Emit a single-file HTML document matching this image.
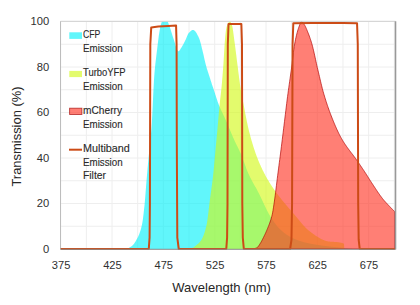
<!DOCTYPE html>
<html><head><meta charset="utf-8"><style>
html,body{margin:0;padding:0;background:#fff;}
svg{display:block;}
text{font-family:"Liberation Sans",sans-serif;stroke-linejoin:round;}
</style></head><body>
<svg width="420" height="305" viewBox="0 0 420 305">
<rect width="420" height="305" fill="#fff"/>
<line x1="60.7" y1="21.50" x2="395.5" y2="21.50" stroke="#EEEEEE" stroke-width="1"/>
<line x1="60.7" y1="44.25" x2="395.5" y2="44.25" stroke="#EEEEEE" stroke-width="1"/>
<line x1="60.7" y1="67.00" x2="395.5" y2="67.00" stroke="#EEEEEE" stroke-width="1"/>
<line x1="60.7" y1="89.75" x2="395.5" y2="89.75" stroke="#EEEEEE" stroke-width="1"/>
<line x1="60.7" y1="112.50" x2="395.5" y2="112.50" stroke="#EEEEEE" stroke-width="1"/>
<line x1="60.7" y1="135.25" x2="395.5" y2="135.25" stroke="#EEEEEE" stroke-width="1"/>
<line x1="60.7" y1="158.00" x2="395.5" y2="158.00" stroke="#EEEEEE" stroke-width="1"/>
<line x1="60.7" y1="180.75" x2="395.5" y2="180.75" stroke="#EEEEEE" stroke-width="1"/>
<line x1="60.7" y1="203.50" x2="395.5" y2="203.50" stroke="#EEEEEE" stroke-width="1"/>
<line x1="60.7" y1="226.25" x2="395.5" y2="226.25" stroke="#EEEEEE" stroke-width="1"/>
<line x1="60.7" y1="249.00" x2="395.5" y2="249.00" stroke="#EEEEEE" stroke-width="1"/>
<line x1="60.70" y1="21.5" x2="60.70" y2="249" stroke="#EEEEEE" stroke-width="1"/>
<line x1="86.36" y1="21.5" x2="86.36" y2="249" stroke="#EEEEEE" stroke-width="1"/>
<line x1="112.03" y1="21.5" x2="112.03" y2="249" stroke="#EEEEEE" stroke-width="1"/>
<line x1="137.69" y1="21.5" x2="137.69" y2="249" stroke="#EEEEEE" stroke-width="1"/>
<line x1="163.35" y1="21.5" x2="163.35" y2="249" stroke="#EEEEEE" stroke-width="1"/>
<line x1="189.01" y1="21.5" x2="189.01" y2="249" stroke="#EEEEEE" stroke-width="1"/>
<line x1="214.68" y1="21.5" x2="214.68" y2="249" stroke="#EEEEEE" stroke-width="1"/>
<line x1="240.34" y1="21.5" x2="240.34" y2="249" stroke="#EEEEEE" stroke-width="1"/>
<line x1="266.00" y1="21.5" x2="266.00" y2="249" stroke="#EEEEEE" stroke-width="1"/>
<line x1="291.66" y1="21.5" x2="291.66" y2="249" stroke="#EEEEEE" stroke-width="1"/>
<line x1="317.32" y1="21.5" x2="317.32" y2="249" stroke="#EEEEEE" stroke-width="1"/>
<line x1="342.99" y1="21.5" x2="342.99" y2="249" stroke="#EEEEEE" stroke-width="1"/>
<line x1="368.65" y1="21.5" x2="368.65" y2="249" stroke="#EEEEEE" stroke-width="1"/>
<line x1="394.31" y1="21.5" x2="394.31" y2="249" stroke="#EEEEEE" stroke-width="1"/>
<defs><clipPath id="pc"><rect x="60.5" y="21.6" width="335.2" height="227.9"/></clipPath></defs><g clip-path="url(#pc)">
<path d="M112.03,249.00 L112.03,249.00 L112.45,249.00 L112.87,249.00 L113.29,249.00 L113.72,249.00 L114.14,249.00 L114.56,249.00 L114.98,249.00 L115.41,249.00 L115.83,249.00 L116.25,249.00 L116.67,249.00 L117.10,249.00 L117.52,249.00 L117.94,249.00 L118.37,249.00 L118.79,249.00 L119.21,249.00 L119.62,249.00 L120.03,249.00 L120.44,249.00 L120.85,249.00 L121.26,249.00 L121.67,249.00 L122.08,249.00 L122.50,249.00 L122.91,249.00 L123.32,249.00 L123.73,249.00 L124.14,249.00 L124.55,249.00 L124.96,249.00 L125.37,249.00 L125.78,248.98 L126.19,248.93 L126.60,248.85 L127.01,248.74 L127.42,248.60 L127.83,248.44 L128.24,248.25 L128.65,248.05 L129.06,247.83 L129.48,247.59 L129.89,247.35 L130.30,247.09 L130.71,246.82 L131.12,246.55 L131.53,246.27 L131.94,245.97 L132.35,245.61 L132.76,245.21 L133.17,244.76 L133.58,244.27 L133.99,243.73 L134.40,243.16 L134.81,242.55 L135.22,241.91 L135.63,241.24 L136.05,240.54 L136.46,239.82 L136.87,239.07 L137.28,238.31 L137.70,237.50 L138.12,236.64 L138.54,235.72 L138.96,234.74 L139.38,233.69 L139.80,232.54 L140.22,231.30 L140.64,229.94 L141.06,228.47 L141.48,226.86 L141.90,225.11 L142.34,222.85 L142.79,219.98 L143.23,216.61 L143.68,212.86 L144.12,208.84 L144.57,204.64 L145.05,199.35 L145.54,193.21 L146.03,186.81 L146.52,180.75 L147.01,175.07 L147.50,169.51 L147.99,164.06 L148.49,158.71 L148.98,153.45 L149.47,148.53 L149.96,143.95 L150.46,139.32 L150.95,134.28 L151.44,128.43 L151.87,121.98 L152.29,114.07 L152.72,105.30 L153.14,96.29 L153.57,87.63 L153.99,79.94 L154.42,73.83 L154.88,68.64 L155.34,64.10 L155.81,60.02 L156.27,56.23 L156.73,52.55 L157.19,48.80 L157.60,45.36 L158.01,41.95 L158.42,38.66 L158.83,35.60 L159.24,32.88 L159.76,29.77 L160.27,27.01 L160.78,24.91 L161.21,23.54 L161.64,22.22 L162.07,21.04 L162.49,20.09 L162.92,19.46 L163.35,19.23 L163.79,19.23 L164.23,19.23 L164.67,19.23 L165.11,19.23 L165.55,19.23 L165.99,19.23 L166.43,19.23 L166.86,19.50 L167.28,20.22 L167.71,21.26 L168.14,22.48 L168.57,23.74 L169.00,24.91 L169.42,26.02 L169.84,27.22 L170.26,28.48 L170.68,29.79 L171.10,31.14 L171.52,32.51 L171.94,33.87 L172.36,35.22 L172.78,36.54 L173.20,37.81 L173.62,39.02 L174.05,40.31 L174.49,41.72 L174.93,43.19 L175.37,44.68 L175.81,46.14 L176.25,47.51 L176.69,48.74 L177.12,49.78 L177.56,50.59 L178.00,51.12 L178.44,51.30 L178.85,51.18 L179.26,50.83 L179.67,50.32 L180.08,49.69 L180.49,49.01 L180.90,48.31 L181.31,47.66 L181.74,47.00 L182.18,46.30 L182.61,45.55 L183.04,44.78 L183.47,43.97 L183.90,43.15 L184.33,42.30 L184.76,41.44 L185.19,40.57 L185.63,39.70 L186.04,38.79 L186.45,37.78 L186.86,36.73 L187.27,35.69 L187.68,34.74 L188.09,33.93 L188.50,33.33 L188.92,32.85 L189.34,32.38 L189.76,31.94 L190.18,31.52 L190.60,31.14 L191.02,30.79 L191.44,30.49 L191.86,30.25 L192.28,30.07 L192.70,29.96 L193.12,29.92 L193.55,29.98 L193.99,30.17 L194.42,30.47 L194.86,30.88 L195.29,31.37 L195.72,31.95 L196.16,32.60 L196.59,33.31 L197.03,34.07 L197.46,34.88 L197.90,35.71 L198.33,36.56 L198.76,37.43 L199.21,38.46 L199.66,39.74 L200.11,41.22 L200.56,42.85 L201.01,44.58 L201.46,46.37 L201.91,48.17 L202.36,49.94 L202.78,51.64 L203.20,53.46 L203.63,55.35 L204.05,57.28 L204.47,59.20 L204.90,61.07 L205.32,62.85 L205.74,64.50 L206.19,66.11 L206.63,67.65 L207.08,69.13 L207.52,70.56 L207.97,71.96 L208.41,73.34 L208.86,74.70 L209.30,76.08 L209.75,77.47 L210.18,78.82 L210.61,80.16 L211.04,81.49 L211.47,82.82 L211.90,84.13 L212.33,85.45 L212.77,86.75 L213.20,88.06 L213.63,89.36 L214.06,90.66 L214.50,92.00 L214.94,93.35 L215.37,94.72 L215.81,96.08 L216.25,97.44 L216.69,98.79 L217.13,100.11 L217.57,101.40 L218.01,102.65 L218.45,103.85 L218.88,104.99 L219.32,106.06 L219.75,107.09 L220.18,108.08 L220.61,109.05 L221.05,109.98 L221.48,110.90 L221.91,111.80 L222.34,112.69 L222.78,113.58 L223.21,114.48 L223.64,115.38 L224.07,116.29 L224.51,117.23 L224.94,118.19 L225.36,119.14 L225.78,120.10 L226.20,121.07 L226.62,122.05 L227.04,123.03 L227.46,124.02 L227.88,125.02 L228.30,126.02 L228.72,127.02 L229.14,128.02 L229.56,129.03 L229.98,130.03 L230.40,131.03 L230.82,132.03 L231.24,133.03 L231.66,134.02 L232.08,135.00 L232.50,135.98 L232.92,136.95 L233.34,137.91 L233.76,138.86 L234.18,139.80 L234.60,140.73 L235.02,141.64 L235.45,142.53 L235.87,143.41 L236.29,144.28 L236.71,145.14 L237.14,146.00 L237.56,146.86 L237.98,147.72 L238.41,148.59 L238.83,149.46 L239.25,150.35 L239.67,151.25 L240.10,152.16 L240.52,153.10 L240.94,154.06 L241.36,155.04 L241.78,156.05 L242.20,157.11 L242.62,158.20 L243.03,159.33 L243.45,160.48 L243.87,161.65 L244.28,162.83 L244.70,164.01 L245.12,165.19 L245.53,166.36 L245.95,167.52 L246.37,168.65 L246.79,169.75 L247.20,170.81 L247.62,171.82 L248.04,172.79 L248.45,173.71 L248.87,174.60 L249.28,175.48 L249.69,176.34 L250.11,177.17 L250.52,178.00 L250.94,178.80 L251.35,179.60 L251.77,180.38 L252.18,181.15 L252.60,181.91 L253.01,182.67 L253.43,183.42 L253.84,184.16 L254.25,184.90 L254.67,185.64 L255.08,186.38 L255.50,187.12 L255.91,187.86 L256.33,188.61 L256.74,189.36 L257.16,190.12 L257.57,190.89 L257.99,191.67 L258.40,192.46 L258.81,193.26 L259.23,194.09 L259.65,194.93 L260.07,195.78 L260.49,196.65 L260.91,197.52 L261.32,198.40 L261.74,199.29 L262.16,200.19 L262.58,201.09 L263.00,201.98 L263.41,202.88 L263.83,203.78 L264.25,204.68 L264.67,205.57 L265.09,206.46 L265.51,207.33 L265.92,208.20 L266.34,209.06 L266.76,209.90 L267.18,210.73 L267.60,211.55 L268.01,212.34 L268.43,213.12 L268.85,213.88 L269.27,214.61 L269.69,215.33 L270.11,216.01 L270.53,216.69 L270.95,217.35 L271.37,218.01 L271.79,218.66 L272.21,219.31 L272.63,219.95 L273.05,220.57 L273.47,221.19 L273.89,221.80 L274.31,222.40 L274.73,222.98 L275.15,223.56 L275.57,224.12 L275.99,224.67 L276.40,225.20 L276.82,225.72 L277.24,226.23 L277.66,226.72 L278.08,227.20 L278.50,227.66 L278.92,228.10 L279.34,228.53 L279.76,228.93 L280.17,229.33 L280.58,229.72 L280.99,230.10 L281.40,230.48 L281.81,230.85 L282.22,231.22 L282.63,231.57 L283.04,231.92 L283.45,232.27 L283.86,232.60 L284.27,232.93 L284.68,233.25 L285.09,233.57 L285.50,233.87 L285.91,234.17 L286.32,234.46 L286.74,234.74 L287.15,235.02 L287.56,235.28 L287.97,235.54 L288.38,235.79 L288.79,236.03 L289.20,236.26 L289.61,236.49 L290.02,236.71 L290.43,236.92 L290.84,237.13 L291.25,237.34 L291.66,237.54 L292.07,237.74 L292.48,237.94 L292.89,238.14 L293.30,238.33 L293.72,238.52 L294.13,238.70 L294.54,238.89 L294.95,239.07 L295.36,239.24 L295.77,239.41 L296.18,239.58 L296.59,239.75 L297.00,239.91 L297.41,240.07 L297.82,240.23 L298.23,240.38 L298.64,240.53 L299.05,240.68 L299.46,240.82 L299.87,240.96 L300.29,241.10 L300.70,241.23 L301.11,241.36 L301.52,241.49 L301.93,241.61 L302.34,241.73 L302.75,241.85 L303.16,241.96 L303.57,242.07 L303.98,242.18 L304.39,242.28 L304.80,242.38 L305.21,242.48 L305.62,242.58 L306.03,242.68 L306.44,242.77 L306.85,242.87 L307.27,242.96 L307.68,243.05 L308.09,243.14 L308.50,243.23 L308.91,243.32 L309.32,243.40 L309.73,243.49 L310.14,243.57 L310.55,243.65 L310.96,243.73 L311.37,243.81 L311.78,243.89 L312.19,243.96 L312.60,244.04 L313.01,244.11 L313.42,244.19 L313.83,244.26 L314.25,244.33 L314.66,244.40 L315.07,244.47 L315.48,244.54 L315.89,244.61 L316.30,244.67 L316.71,244.74 L317.12,244.80 L317.53,244.87 L317.94,244.93 L318.35,244.99 L318.76,245.05 L319.17,245.12 L319.58,245.18 L319.99,245.24 L320.40,245.30 L320.82,245.36 L321.23,245.41 L321.64,245.47 L322.05,245.53 L322.46,245.59 L322.87,245.64 L323.28,245.70 L323.69,245.75 L324.10,245.81 L324.51,245.86 L324.92,245.91 L325.33,245.97 L325.74,246.02 L326.15,246.07 L326.56,246.12 L326.97,246.17 L327.38,246.21 L327.80,246.26 L328.21,246.31 L328.62,246.36 L329.03,246.40 L329.44,246.45 L329.85,246.49 L330.26,246.54 L330.67,246.58 L331.08,246.63 L331.49,246.67 L331.90,246.71 L332.31,246.75 L332.72,246.80 L333.13,246.84 L333.54,246.88 L333.95,246.92 L334.36,246.97 L334.78,247.01 L335.19,247.05 L335.60,247.09 L336.01,247.13 L336.42,247.17 L336.83,247.22 L337.24,247.26 L337.65,247.30 L338.06,247.34 L338.47,247.38 L338.88,247.43 L339.29,247.47 L339.70,247.51 L340.11,247.55 L340.52,247.60 L340.93,247.64 L341.35,247.68 L341.76,247.73 L342.17,247.77 L342.58,247.82 L342.99,247.86 L343.40,247.91 L343.81,247.95 L344.22,248.00 L344.63,248.04 L345.04,248.09 L345.45,248.14 L345.86,248.18 L346.27,248.23 L346.68,248.27 L347.09,248.32 L347.50,248.36 L347.91,248.41 L348.33,248.45 L348.74,248.50 L349.15,248.54 L349.56,248.59 L349.97,248.64 L350.38,248.68 L350.79,248.73 L351.20,248.77 L351.61,248.82 L352.02,248.86 L352.43,248.91 L352.84,248.95 L353.25,249.00 L353.25,249.00 Z" fill="#00F0F8" fill-opacity="0.62"/>
<path d="M187.99,249.00 L187.99,249.00 L188.41,248.90 L188.83,248.81 L189.25,248.72 L189.67,248.63 L190.09,248.55 L190.51,248.46 L190.93,248.36 L191.35,248.26 L191.77,248.14 L192.19,248.01 L192.61,247.86 L193.02,247.69 L193.43,247.47 L193.84,247.22 L194.25,246.93 L194.66,246.62 L195.07,246.29 L195.48,245.95 L195.89,245.60 L196.30,245.25 L196.71,244.91 L197.12,244.56 L197.53,244.23 L197.94,243.88 L198.35,243.53 L198.76,243.16 L199.17,242.76 L199.59,242.34 L200.00,241.87 L200.41,241.37 L200.82,240.81 L201.25,240.15 L201.69,239.42 L202.12,238.61 L202.55,237.71 L202.99,236.73 L203.42,235.66 L203.86,234.51 L204.29,233.26 L204.73,231.92 L205.16,230.48 L205.59,228.94 L206.03,227.31 L206.46,225.57 L206.89,223.50 L207.31,220.86 L207.73,217.78 L208.16,214.40 L208.58,210.83 L209.00,207.21 L209.43,203.66 L209.85,200.31 L210.26,197.26 L210.67,194.26 L211.08,191.29 L211.49,188.29 L211.90,185.21 L212.31,182.01 L212.72,178.65 L213.14,175.06 L213.59,170.72 L214.04,165.95 L214.49,160.95 L214.94,155.89 L215.39,150.95 L215.82,146.37 L216.26,141.81 L216.69,137.24 L217.12,132.64 L217.55,127.97 L217.96,123.38 L218.37,118.66 L218.78,113.93 L219.19,109.34 L219.60,104.99 L220.01,101.04 L220.42,97.36 L220.83,93.76 L221.24,90.01 L221.66,85.88 L222.12,80.74 L222.58,75.18 L223.04,69.22 L223.50,62.91 L223.98,55.12 L224.46,46.72 L224.94,39.93 L225.45,34.48 L225.97,29.94 L226.48,27.19 L226.90,25.96 L227.33,24.85 L227.75,23.88 L228.17,23.05 L228.60,22.39 L229.02,21.91 L229.44,21.60 L229.87,21.50 L230.28,21.68 L230.69,22.19 L231.10,22.95 L231.51,23.88 L231.92,24.91 L232.35,26.49 L232.78,28.86 L233.20,31.78 L233.63,35.02 L234.06,38.35 L234.49,41.52 L234.91,44.61 L235.34,47.85 L235.76,51.19 L236.19,54.60 L236.61,58.02 L237.04,61.41 L237.46,64.72 L237.89,68.04 L238.31,71.43 L238.74,74.81 L239.16,78.15 L239.59,81.37 L240.01,84.43 L240.44,87.25 L240.87,89.84 L241.29,92.26 L241.72,94.56 L242.14,96.78 L242.57,98.96 L242.99,101.16 L243.42,103.40 L243.84,105.71 L244.27,108.03 L244.70,110.35 L245.13,112.64 L245.56,114.88 L245.98,117.05 L246.45,119.35 L246.91,121.64 L247.37,123.87 L247.83,126.04 L248.29,128.09 L248.75,130.02 L249.17,131.67 L249.59,133.29 L250.00,134.87 L250.42,136.43 L250.84,137.95 L251.25,139.45 L251.67,140.91 L252.09,142.35 L252.50,143.75 L252.92,145.12 L253.33,146.47 L253.75,147.78 L254.17,149.06 L254.58,150.32 L255.00,151.54 L255.42,152.74 L255.83,153.91 L256.25,155.04 L256.67,156.17 L257.09,157.27 L257.51,158.35 L257.93,159.41 L258.35,160.45 L258.77,161.47 L259.19,162.47 L259.61,163.46 L260.03,164.42 L260.45,165.37 L260.87,166.31 L261.29,167.22 L261.71,168.12 L262.13,169.01 L262.55,169.88 L262.97,170.74 L263.39,171.58 L263.82,172.41 L264.24,173.23 L264.66,174.04 L265.08,174.83 L265.50,175.63 L265.92,176.40 L266.35,177.17 L266.77,177.92 L267.20,178.67 L267.62,179.40 L268.04,180.12 L268.47,180.83 L268.89,181.54 L269.32,182.23 L269.74,182.91 L270.16,183.59 L270.59,184.25 L271.01,184.91 L271.44,185.56 L271.86,186.21 L272.28,186.84 L272.71,187.47 L273.13,188.09 L273.56,188.71 L273.98,189.32 L274.40,189.93 L274.83,190.53 L275.25,191.12 L275.67,191.71 L276.09,192.29 L276.51,192.86 L276.93,193.43 L277.35,194.00 L277.77,194.56 L278.19,195.11 L278.61,195.66 L279.03,196.21 L279.44,196.75 L279.86,197.29 L280.28,197.82 L280.70,198.35 L281.12,198.88 L281.54,199.40 L281.96,199.92 L282.38,200.44 L282.80,200.95 L283.22,201.46 L283.64,201.97 L284.06,202.47 L284.48,202.98 L284.90,203.48 L285.32,203.98 L285.74,204.47 L286.16,204.97 L286.58,205.46 L287.00,205.95 L287.42,206.44 L287.84,206.93 L288.26,207.42 L288.68,207.91 L289.10,208.40 L289.52,208.88 L289.94,209.37 L290.36,209.85 L290.78,210.34 L291.20,210.82 L291.62,211.31 L292.04,211.79 L292.46,212.28 L292.88,212.76 L293.30,213.25 L293.72,213.74 L294.13,214.22 L294.55,214.72 L294.96,215.21 L295.38,215.71 L295.80,216.21 L296.21,216.71 L296.63,217.22 L297.04,217.73 L297.46,218.24 L297.88,218.75 L298.29,219.26 L298.71,219.76 L299.13,220.27 L299.54,220.78 L299.96,221.28 L300.37,221.78 L300.79,222.28 L301.21,222.78 L301.62,223.27 L302.04,223.75 L302.45,224.23 L302.87,224.71 L303.29,225.18 L303.70,225.64 L304.12,226.09 L304.54,226.54 L304.95,226.98 L305.37,227.41 L305.78,227.83 L306.20,228.24 L306.62,228.64 L307.03,229.03 L307.45,229.41 L307.86,229.78 L308.28,230.13 L308.70,230.47 L309.11,230.80 L309.53,231.12 L309.94,231.44 L310.36,231.76 L310.77,232.08 L311.19,232.39 L311.61,232.71 L312.02,233.02 L312.44,233.33 L312.85,233.64 L313.27,233.94 L313.68,234.24 L314.10,234.54 L314.51,234.84 L314.93,235.13 L315.35,235.42 L315.76,235.70 L316.18,235.99 L316.59,236.26 L317.01,236.53 L317.42,236.80 L317.84,237.06 L318.25,237.32 L318.67,237.57 L319.08,237.82 L319.50,238.06 L319.92,238.29 L320.33,238.52 L320.75,238.74 L321.16,238.96 L321.58,239.17 L321.99,239.37 L322.41,239.56 L322.82,239.74 L323.24,239.92 L323.66,240.09 L324.07,240.25 L324.49,240.41 L324.90,240.55 L325.32,240.69 L325.73,240.81 L326.15,240.93 L326.56,241.04 L326.98,241.14 L327.39,241.22 L327.81,241.31 L328.23,241.38 L328.64,241.44 L329.06,241.50 L329.47,241.56 L329.89,241.60 L330.30,241.64 L330.72,241.68 L331.13,241.72 L331.55,241.75 L331.96,241.77 L332.38,241.80 L332.80,241.82 L333.21,241.84 L333.63,241.86 L334.04,241.89 L334.46,241.91 L334.87,241.93 L335.29,241.95 L335.70,241.98 L336.12,242.01 L336.54,242.04 L336.95,242.07 L337.37,242.11 L337.78,242.16 L338.20,242.21 L338.61,242.26 L339.03,242.32 L339.44,242.39 L339.86,242.47 L340.27,242.55 L340.69,242.65 L341.11,242.75 L341.52,242.86 L341.94,242.98 L342.35,243.12 L342.77,243.26 L343.18,243.42 L343.60,243.59 L344.01,243.77 L344.32,249.00 L344.32,249.00 Z" fill="#D2F814" fill-opacity="0.62"/>
<path d="M252.66,249.00 L252.66,249.00 L253.07,248.89 L253.48,248.80 L253.89,248.71 L254.30,248.62 L254.71,248.53 L255.12,248.43 L255.53,248.31 L255.94,248.19 L256.35,248.04 L256.76,247.86 L257.21,247.58 L257.66,247.17 L258.11,246.66 L258.56,246.06 L259.01,245.41 L259.46,244.71 L259.91,244.01 L260.35,243.31 L260.80,242.60 L261.25,241.82 L261.70,241.00 L262.15,240.14 L262.60,239.24 L263.05,238.33 L263.50,237.41 L263.95,236.49 L264.40,235.57 L264.85,234.63 L265.29,233.69 L265.74,232.72 L266.19,231.72 L266.64,230.70 L267.09,229.63 L267.54,228.53 L267.96,227.48 L268.38,226.44 L268.80,225.39 L269.22,224.32 L269.64,223.21 L270.06,222.05 L270.48,220.82 L270.90,219.50 L271.32,218.08 L271.74,216.54 L272.16,214.88 L272.59,212.88 L273.01,210.50 L273.44,207.82 L273.87,204.95 L274.30,201.96 L274.73,198.95 L275.15,195.83 L275.58,192.48 L276.01,189.00 L276.44,185.45 L276.86,181.92 L277.29,178.48 L277.70,175.26 L278.11,172.07 L278.52,168.90 L278.93,165.74 L279.34,162.59 L279.76,159.43 L280.17,156.26 L280.58,153.08 L280.99,149.87 L281.40,146.62 L281.84,143.11 L282.28,139.56 L282.72,135.98 L283.16,132.38 L283.60,128.78 L284.04,125.18 L284.48,121.60 L284.92,118.00 L285.36,114.37 L285.80,110.72 L286.24,107.10 L286.68,103.52 L287.12,100.00 L287.56,96.58 L287.97,93.48 L288.38,90.47 L288.79,87.53 L289.20,84.63 L289.61,81.76 L290.02,78.89 L290.43,75.99 L290.84,73.06 L291.25,70.07 L291.66,67.00 L292.09,63.59 L292.52,59.95 L292.95,56.27 L293.37,52.69 L293.80,49.39 L294.23,46.53 L294.66,44.03 L295.08,41.73 L295.51,39.59 L295.94,37.60 L296.37,35.75 L296.80,34.01 L297.21,32.44 L297.62,30.97 L298.03,29.59 L298.44,28.33 L298.85,27.19 L299.29,25.96 L299.74,24.68 L300.18,23.47 L300.63,22.46 L301.07,21.76 L301.52,21.50 L301.94,21.61 L302.37,21.92 L302.79,22.38 L303.22,22.95 L303.64,23.59 L304.07,24.26 L304.49,24.91 L304.94,25.65 L305.39,26.49 L305.84,27.43 L306.29,28.44 L306.74,29.51 L307.19,30.62 L307.64,31.74 L308.09,32.88 L308.50,33.92 L308.91,34.99 L309.32,36.09 L309.73,37.22 L310.14,38.40 L310.55,39.61 L310.96,40.88 L311.37,42.20 L311.78,43.57 L312.21,45.08 L312.63,46.69 L313.06,48.39 L313.48,50.17 L313.91,52.01 L314.33,53.91 L314.76,55.84 L315.18,57.79 L315.61,59.76 L316.03,61.72 L316.46,63.67 L316.89,65.58 L317.31,67.46 L317.74,69.28 L318.15,71.04 L318.57,72.82 L318.99,74.62 L319.41,76.41 L319.83,78.21 L320.24,79.99 L320.66,81.76 L321.08,83.51 L321.50,85.23 L321.91,86.91 L322.33,88.56 L322.75,90.15 L323.17,91.69 L323.59,93.16 L324.01,94.62 L324.44,96.06 L324.87,97.47 L325.29,98.85 L325.72,100.21 L326.15,101.55 L326.57,102.86 L327.00,104.15 L327.43,105.42 L327.85,106.67 L328.28,107.89 L328.71,109.10 L329.14,110.29 L329.56,111.46 L329.99,112.61 L330.42,113.75 L330.84,114.86 L331.27,115.96 L331.70,117.05 L332.12,118.12 L332.54,119.17 L332.97,120.22 L333.39,121.26 L333.82,122.29 L334.24,123.31 L334.66,124.31 L335.09,125.31 L335.51,126.29 L335.94,127.26 L336.36,128.21 L336.78,129.15 L337.21,130.08 L337.63,130.99 L338.06,131.89 L338.48,132.77 L338.90,133.63 L339.33,134.48 L339.75,135.31 L340.18,136.12 L340.60,136.91 L341.02,137.68 L341.45,138.44 L341.86,139.15 L342.27,139.85 L342.69,140.54 L343.10,141.22 L343.51,141.88 L343.93,142.53 L344.34,143.17 L344.75,143.80 L345.17,144.42 L345.58,145.02 L345.99,145.62 L346.41,146.22 L346.82,146.80 L347.23,147.38 L347.65,147.95 L348.06,148.51 L348.47,149.07 L348.89,149.62 L349.30,150.17 L349.71,150.72 L350.13,151.27 L350.54,151.81 L350.95,152.35 L351.37,152.89 L351.78,153.43 L352.19,153.97 L352.61,154.51 L353.02,155.06 L353.43,155.60 L353.85,156.15 L354.26,156.71 L354.67,157.26 L355.09,157.83 L355.50,158.39 L355.91,158.97 L356.33,159.55 L356.74,160.13 L357.15,160.73 L357.58,161.35 L358.01,161.97 L358.44,162.60 L358.86,163.22 L359.29,163.84 L359.72,164.47 L360.15,165.09 L360.57,165.72 L361.00,166.35 L361.43,166.98 L361.86,167.62 L362.29,168.25 L362.71,168.89 L363.14,169.53 L363.57,170.17 L364.00,170.81 L364.42,171.46 L364.85,172.11 L365.27,172.75 L365.69,173.40 L366.12,174.05 L366.54,174.71 L366.96,175.37 L367.38,176.04 L367.80,176.71 L368.22,177.37 L368.64,178.04 L369.07,178.71 L369.49,179.38 L369.91,180.05 L370.33,180.72 L370.75,181.38 L371.17,182.04 L371.59,182.69 L372.02,183.34 L372.44,183.98 L372.86,184.62 L373.27,185.24 L373.69,185.87 L374.10,186.49 L374.52,187.12 L374.93,187.75 L375.35,188.38 L375.76,189.01 L376.18,189.63 L376.59,190.26 L377.01,190.88 L377.42,191.50 L377.84,192.11 L378.25,192.72 L378.67,193.32 L379.08,193.92 L379.50,194.51 L379.91,195.10 L380.33,195.68 L380.74,196.24 L381.16,196.81 L381.57,197.36 L381.99,197.90 L382.40,198.43 L382.82,198.95 L383.23,199.45 L383.64,199.95 L384.05,200.43 L384.46,200.90 L384.87,201.36 L385.28,201.82 L385.69,202.27 L386.10,202.72 L386.51,203.16 L386.92,203.60 L387.33,204.03 L387.74,204.47 L388.15,204.90 L388.56,205.34 L388.97,205.78 L389.39,206.21 L389.80,206.64 L390.21,207.07 L390.62,207.50 L391.03,207.92 L391.44,208.34 L391.85,208.76 L392.26,209.18 L392.67,209.60 L393.08,210.01 L393.49,210.43 L393.90,210.85 L394.31,211.27 L394.72,211.69 L394.72,249.00 Z" fill="#FF3020" fill-opacity="0.62" stroke="#B00000" stroke-opacity="0.75" stroke-width="0.9"/>
</g>
<line x1="60.5" y1="21.3" x2="395.5" y2="21.3" stroke="#D0D0D0" stroke-width="1"/>
<line x1="60.5" y1="21.3" x2="60.5" y2="249" stroke="#BDBDBD" stroke-width="1"/>
<line x1="395.5" y1="21.3" x2="395.5" y2="249.5" stroke="#999999" stroke-width="1.6"/>
<path d="M60.70,249.00 L148.77,249.00 L149.59,237.62 L149.90,203.50 L150.31,44.25 L151.24,27.41 L158.22,26.51 L168.48,26.05 L176.08,25.59 L176.59,44.25 L176.80,139.80 L177.11,203.50 L177.31,237.62 L178.75,249.00 L226.27,249.00 L227.10,237.62 L227.51,203.50 L227.81,44.25 L228.53,24.00 L235.20,24.00 L241.36,24.00 L241.98,44.25 L242.29,203.50 L242.80,237.62 L243.83,249.00 L290.12,249.00 L291.46,239.90 L292.07,203.50 L292.59,44.25 L293.30,23.32 L312.19,23.09 L342.99,23.09 L357.05,23.32 L357.77,44.25 L358.18,203.50 L358.69,239.90 L359.72,249.00 L394.83,249.00" fill="none" stroke="#CC4B16" stroke-width="2" stroke-linejoin="round"/>
<line x1="60.5" y1="249.4" x2="395.5" y2="249.4" stroke="#8C8C8C" stroke-opacity="0.8" stroke-width="1.1"/>
<rect x="69.3" y="32.3" width="12.7" height="6.6" fill="#00F0F8" fill-opacity="0.62"/>
<rect x="69.3" y="70.9" width="12.7" height="6.2" fill="#D2F814" fill-opacity="0.62"/>
<rect x="69.6" y="108.2" width="12.3" height="6.3" fill="#FF3020" fill-opacity="0.62" stroke="#A00000" stroke-opacity="0.7" stroke-width="0.9"/>
<line x1="69" y1="149.7" x2="82" y2="149.7" stroke="#CC4B16" stroke-width="2"/>
<text x="83.0" y="38.3" font-size="10.4" fill="#2A2A2A" stroke="#2A2A2A" stroke-width="0.12" textLength="17.4" lengthAdjust="spacingAndGlyphs">CFP</text>
<text x="83.0" y="52.0" font-size="10.4" fill="#2A2A2A" stroke="#2A2A2A" stroke-width="0.12" textLength="39.6" lengthAdjust="spacingAndGlyphs">Emission</text>
<text x="83.0" y="76.4" font-size="10.4" fill="#2A2A2A" stroke="#2A2A2A" stroke-width="0.12" textLength="42.6" lengthAdjust="spacingAndGlyphs">TurboYFP</text>
<text x="83.0" y="89.8" font-size="10.4" fill="#2A2A2A" stroke="#2A2A2A" stroke-width="0.12" textLength="39.6" lengthAdjust="spacingAndGlyphs">Emission</text>
<text x="83.0" y="114.3" font-size="10.4" fill="#2A2A2A" stroke="#2A2A2A" stroke-width="0.12" textLength="39.0" lengthAdjust="spacingAndGlyphs">mCherry</text>
<text x="83.0" y="127.7" font-size="10.4" fill="#2A2A2A" stroke="#2A2A2A" stroke-width="0.12" textLength="39.6" lengthAdjust="spacingAndGlyphs">Emission</text>
<text x="83.0" y="152.4" font-size="10.4" fill="#2A2A2A" stroke="#2A2A2A" stroke-width="0.12" textLength="46.8" lengthAdjust="spacingAndGlyphs">Multiband</text>
<text x="83.0" y="165.7" font-size="10.4" fill="#2A2A2A" stroke="#2A2A2A" stroke-width="0.12" textLength="39.6" lengthAdjust="spacingAndGlyphs">Emission</text>
<text x="83.0" y="179.1" font-size="10.4" fill="#2A2A2A" stroke="#2A2A2A" stroke-width="0.12" textLength="23.0" lengthAdjust="spacingAndGlyphs">Filter</text>
<text x="49.2" y="25.40" text-anchor="end" font-size="11.2" fill="#303030">100</text>
<text x="49.2" y="70.90" text-anchor="end" font-size="11.2" fill="#303030">80</text>
<text x="49.2" y="116.40" text-anchor="end" font-size="11.2" fill="#303030">60</text>
<text x="49.2" y="161.90" text-anchor="end" font-size="11.2" fill="#303030">40</text>
<text x="49.2" y="207.40" text-anchor="end" font-size="11.2" fill="#303030">20</text>
<text x="49.2" y="252.90" text-anchor="end" font-size="11.2" fill="#303030">0</text>
<text x="61.10" y="269.4" text-anchor="middle" font-size="11.1" fill="#303030">375</text>
<text x="112.43" y="269.4" text-anchor="middle" font-size="11.1" fill="#303030">425</text>
<text x="163.75" y="269.4" text-anchor="middle" font-size="11.1" fill="#303030">475</text>
<text x="215.08" y="269.4" text-anchor="middle" font-size="11.1" fill="#303030">525</text>
<text x="266.40" y="269.4" text-anchor="middle" font-size="11.1" fill="#303030">575</text>
<text x="317.72" y="269.4" text-anchor="middle" font-size="11.1" fill="#303030">625</text>
<text x="369.05" y="269.4" text-anchor="middle" font-size="11.1" fill="#303030">675</text>
<text x="172.3" y="292" font-size="13" fill="#262626" textLength="98.6" lengthAdjust="spacingAndGlyphs">Wavelength (nm)</text>
<text transform="translate(20.8,186.6) rotate(-90)" font-size="13.6" fill="#262626" textLength="100.2" lengthAdjust="spacingAndGlyphs">Transmission (%)</text>
</svg>
</body></html>
